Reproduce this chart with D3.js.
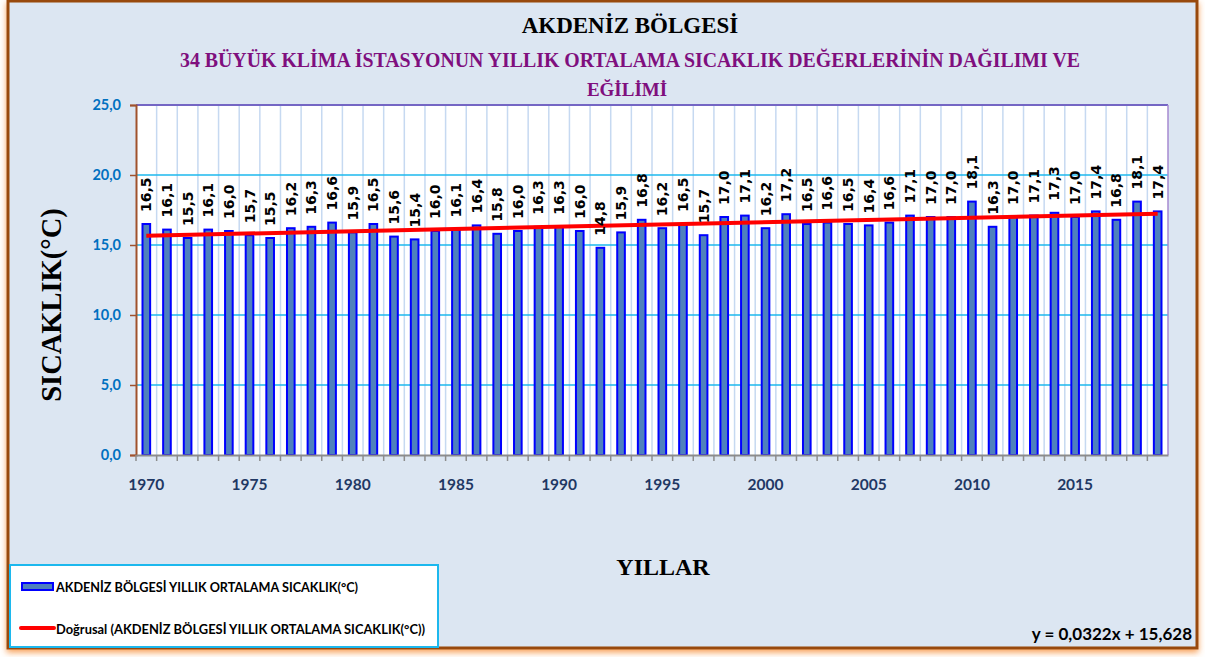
<!DOCTYPE html>
<html><head><meta charset="utf-8">
<script src="https://cdn.jsdelivr.net/npm/d3@7"></script>
<style>
html,body{margin:0;padding:0;background:#fff;}
svg{display:block;}
</style></head>
<body>
<svg id="chart" width="1205" height="657"></svg>
<script>
const years = d3.range(1970, 2020);
const values = [16.5,16.1,15.5,16.1,16.0,15.7,15.5,16.2,16.3,16.6,
                15.9,16.5,15.6,15.4,16.0,16.1,16.4,15.8,16.0,16.3,
                16.3,16.0,14.8,15.9,16.8,16.2,16.5,15.7,17.0,17.1,
                16.2,17.2,16.5,16.6,16.5,16.4,16.6,17.1,17.0,17.0,
                18.1,16.3,17.0,17.1,17.3,17.0,17.4,16.8,18.1,17.4];
const yTicks = [0, 5, 10, 15, 20, 25];
const xTickYears = [1970, 1975, 1980, 1985, 1990, 1995, 2000, 2005, 2010, 2015];
const trendSlope = 0.0322, trendIntercept = 15.628;
const title = "AKDENİZ BÖLGESİ";
const subtitle1 = "34  BÜYÜK KLİMA İSTASYONUN YILLIK ORTALAMA SICAKLIK DEĞERLERİNİN DAĞILIMI VE";
const subtitle2 = "EĞİLİMİ";
const yLabel = "SICAKLIK(°C)";
const xLabel = "YILLAR";
const legendBar = "AKDENİZ BÖLGESİ YILLIK ORTALAMA SICAKLIK(°C)";
const legendLine = "Doğrusal (AKDENİZ BÖLGESİ YILLIK ORTALAMA SICAKLIK(°C))";
const equation = "y = 0,0322x + 15,628";

const fmt = v => d3.format(".1f")(v).replace(".", ",");
const svg = d3.select("#chart");

const defs = svg.append("defs");
const f = defs.append("filter").attr("id","sh").attr("x","-5%").attr("y","-5%").attr("width","110%").attr("height","110%");
f.append("feDropShadow").attr("dx",0).attr("dy",3).attr("stdDeviation",3).attr("flood-color","#f79646").attr("flood-opacity",0.9);

// frame
svg.append("rect").attr("x",8).attr("y",1).attr("width",1189).attr("height",647)
  .attr("fill","#dce6f2").attr("stroke","#984807").attr("stroke-width",3).attr("filter","url(#sh)");

const L = 136, R = 1168, T = 105, B = 455;
const x = d3.scaleBand().domain(years).range([L, R]).paddingInner(0).paddingOuter(0);
const y = d3.scaleLinear().domain([0, 25]).range([B, T]);

// plot background
svg.append("rect").attr("x",L).attr("y",T).attr("width",R-L).attr("height",B-T).attr("fill","#fff");

// vertical gridlines at band boundaries
svg.append("g").selectAll("line").data(years.slice(1)).join("line")
  .attr("x1",d=>x(d)).attr("x2",d=>x(d)).attr("y1",T).attr("y2",B)
  .attr("stroke","#c6d9f1").attr("stroke-width",1.5);

// horizontal gridlines
svg.append("g").selectAll("line").data(yTicks.filter(t=>t>0)).join("line")
  .attr("x1",L).attr("x2",R).attr("y1",d=>y(d)).attr("y2",d=>y(d))
  .attr("stroke",d=>d===25?"#7466c4":"#1cb8ee").attr("stroke-width",d=>d===25?2:1.5);

// right border
svg.append("line").attr("x1",R).attr("x2",R).attr("y1",T).attr("y2",B).attr("stroke","#a68ad0").attr("stroke-width",1.5);

// bars
const bw = x.step()*0.37;
svg.append("g").selectAll("rect").data(values).join("rect")
  .attr("x",(d,i)=>x(years[i])+x.bandwidth()/2-bw/2)
  .attr("y",d=>y(d))
  .attr("width",bw)
  .attr("height",d=>B-y(d))
  .attr("fill","#4f81bd").attr("stroke","#0000ff").attr("stroke-width",2);

// axes
const yAxis = svg.append("g").attr("transform",`translate(${L},0)`)
  .call(d3.axisLeft(y).tickValues(yTicks).tickSize(6).tickFormat(fmt));
yAxis.select(".domain").attr("stroke","#a0522d").attr("stroke-width",2);
yAxis.selectAll(".tick line").attr("stroke","#a0522d").attr("stroke-width",1.5);
yAxis.selectAll(".tick text").attr("x",-15).attr("fill","#0070c0")
  .style("font-family","Lato, 'Open Sans', sans-serif").style("font-weight","bold").style("font-size","14.5px");

const xAxis = svg.append("g").attr("transform",`translate(0,${B})`)
  .call(d3.axisBottom(x).tickValues([]).tickSizeOuter(0));
xAxis.select(".domain").attr("stroke","#8c8c8c").attr("stroke-width",2);
// ticks at band boundaries
xAxis.append("g").selectAll("line").data(years).join("line")
  .attr("x1",d=>x(d)).attr("x2",d=>x(d)).attr("y1",0).attr("y2",6)
  .attr("stroke","#8c8c8c").attr("stroke-width",1.5);
xAxis.append("g").selectAll("text").data(xTickYears).join("text")
  .attr("x",d=>x(d)+x.bandwidth()/2).attr("y",35).attr("text-anchor","middle")
  .attr("fill","#1f3864").style("font-family","Lato, 'Open Sans', sans-serif")
  .style("font-weight","bold").style("font-size","15.5px").text(d=>d);

// trend line
const line = d3.line().x(d=>x(d.year)+x.bandwidth()/2).y(d=>y(d.v));
const trend = years.map((yr,i)=>({year:yr, v: trendSlope*(i+1)+trendIntercept}));
svg.append("path").datum([trend[0], trend[trend.length-1]]).attr("d",line)
  .attr("fill","none").attr("stroke","#ff0000").attr("stroke-width",4);

// data labels
svg.append("g").selectAll("text").data(values).join("text")
  .attr("transform",(d,i)=>`translate(${x(years[i])+x.bandwidth()/2+5},${y(d)-12}) rotate(-90)`)
  .attr("text-anchor","start")
  .style("font-family","'DejaVu Sans', sans-serif").style("font-weight","bold").style("font-size","14px")
  .attr("fill","#000").text(d=>fmt(d));

// titles
svg.append("text").attr("x",630).attr("y",33).attr("text-anchor","middle")
  .style("font-family","'Liberation Serif', 'Times New Roman', serif").style("font-weight","bold").style("font-size","23px")
  .attr("fill","#000").text(title);
svg.append("text").attr("x",630).attr("y",67).attr("text-anchor","middle")
  .attr("textLength",900).attr("lengthAdjust","spacingAndGlyphs")
  .style("font-family","'Liberation Serif', 'Times New Roman', serif").style("font-weight","bold").style("font-size","20px")
  .attr("fill","#7f0f7e").text(subtitle1);
svg.append("text").attr("x",627).attr("y",96).attr("text-anchor","middle")
  .style("font-family","'Liberation Serif', 'Times New Roman', serif").style("font-weight","bold").style("font-size","19px")
  .attr("fill","#7f0f7e").text(subtitle2);

svg.append("text").attr("transform","translate(61,305) rotate(-90)").attr("text-anchor","middle")
  .style("font-family","'Liberation Serif', 'Times New Roman', serif").style("font-weight","bold").style("font-size","28.5px")
  .attr("fill","#000").text(yLabel);
svg.append("text").attr("x",663).attr("y",575).attr("text-anchor","middle")
  .style("font-family","'Liberation Serif', 'Times New Roman', serif").style("font-weight","bold").style("font-size","24px")
  .attr("fill","#000").text(xLabel);

// legend
svg.append("rect").attr("x",10).attr("y",565).attr("width",428).attr("height",82)
  .attr("fill","#fff").attr("stroke","#1cb8ee").attr("stroke-width",2);
svg.append("rect").attr("x",22).attr("y",583).attr("width",31).attr("height",7)
  .attr("fill","#4f81bd").attr("stroke","#0000ff").attr("stroke-width",2);
svg.append("line").attr("x1",21).attr("x2",54).attr("y1",628).attr("y2",628)
  .attr("stroke","#ff0000").attr("stroke-width",4).attr("stroke-linecap","round");
const legStyle = s => s.style("font-family","Lato, 'Open Sans', sans-serif").style("font-weight","bold").style("font-size","14px").attr("fill","#000").attr("lengthAdjust","spacingAndGlyphs");
svg.append("text").attr("x",56).attr("y",592).attr("textLength",302).text(legendBar).call(legStyle);
svg.append("text").attr("x",56).attr("y",634).attr("textLength",369).text(legendLine).call(legStyle);

svg.append("text").attr("x",1192).attr("y",640).attr("text-anchor","end")
  .style("font-family","Lato, 'Open Sans', sans-serif").style("font-weight","bold").style("font-size","17px")
  .attr("fill","#000").text(equation);
</script>
</body></html>
